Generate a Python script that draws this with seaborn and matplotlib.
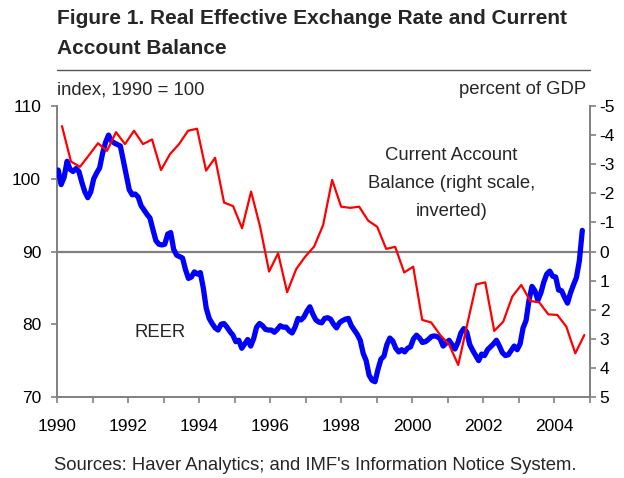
import numpy as np
import pandas as pd
import matplotlib
matplotlib.use("Agg")
import matplotlib.pyplot as plt
import seaborn as sns

# REER, monthly, Jan 1990 - Oct 2004 (index, 1990 = 100)
reer = [
    101.2, 99.2, 100.2, 102.4, 101.3, 101.0, 101.4, 101.0, 99.5, 98.2, 97.4, 98.2,
    100.0, 100.8, 101.5, 103.5, 105.0, 106.0, 105.2, 104.9, 104.7, 104.5, 102.5, 100.5,
    98.5, 97.8, 97.9, 97.5, 96.3, 95.7, 95.1, 94.6, 93.0, 91.5, 91.0, 90.9,
    91.0, 92.4, 92.6, 90.3, 89.5, 89.3, 89.1, 87.5, 86.3, 86.5, 87.2, 86.9,
    87.1, 85.0, 82.2, 80.8, 80.1, 79.5, 79.2, 80.0, 80.1, 79.6, 79.0, 78.5,
    77.6, 77.8, 76.7, 77.3, 77.9, 77.0, 78.0, 79.6, 80.1, 79.8, 79.3, 79.2,
    79.2, 78.9, 79.3, 79.8, 79.6, 79.6, 79.1, 78.8, 79.6, 80.8, 80.6, 81.0,
    81.8, 82.4, 81.4, 80.6, 80.3, 80.2, 80.8, 80.9, 80.7, 80.0, 79.5, 80.2,
    80.5, 80.7, 80.8, 79.8, 79.2, 78.6, 77.8, 76.0, 75.0, 73.0, 72.3, 72.1,
    73.8, 75.2, 75.6, 77.2, 78.1, 77.7, 76.7, 76.2, 76.5, 76.2, 76.7, 76.9,
    78.0, 78.5, 78.1, 77.5, 77.6, 77.9, 78.3, 78.4, 78.3, 78.0, 77.0, 77.4,
    77.8, 77.2, 76.6, 77.5, 78.8, 79.4, 78.9, 77.2, 76.4, 75.7, 75.0, 75.9,
    75.7, 76.5, 76.9, 77.3, 77.8, 77.0, 76.1, 75.7, 75.8, 76.4, 77.0, 76.5,
    77.3, 79.5, 80.5, 83.3, 85.2, 84.6, 83.3, 84.3, 85.8, 86.9, 87.3, 86.6,
    86.5, 84.7, 84.6, 83.7, 82.9, 84.3, 85.4, 86.4, 88.7, 92.9,
]

# current account balance, quarterly, 1990Q1 - 2004Q3 (percent of GDP)
cab = [
    -4.31, -3.09, -2.91, -3.31, -3.72, -3.46, -4.10, -3.69, -4.15, -3.69,
    -3.85, -2.80, -3.35, -3.69, -4.15, -4.22, -2.78, -3.22, -1.68, -1.56,
    -0.80, -2.06, -0.85, 0.69, 0.06, 1.40, 0.61, 0.18, -0.17, -0.91,
    -2.46, -1.54, -1.50, -1.54, -1.06, -0.85, -0.09, -0.16, 0.72, 0.52,
    2.35, 2.44, 2.87, 3.21, 3.90, 2.50, 1.13, 1.06, 2.73, 2.41,
    1.55, 1.15, 1.70, 1.75, 2.16, 2.18, 2.58, 3.50, 2.87,
]

left_ticks = [70, 80, 90, 100, 110]
right_ticks = [-5, -4, -3, -2, -1, 0, 1, 2, 3, 4, 5]
year_labels = list(range(1990, 2005, 2))

df_reer = pd.DataFrame({"t": 1990 + (np.arange(len(reer)) + 0.4) / 12, "v": reer})
df_cab = pd.DataFrame({"t": np.linspace(1990.14, 2004.84, len(cab)), "v": cab})

sns.set_style("ticks")
plt.rcParams["font.family"] = ["Liberation Sans", "DejaVu Sans"]
plt.rcParams["axes.unicode_minus"] = False

fig = plt.figure(figsize=(6.24, 4.78), dpi=100)
ax = fig.add_axes([57 / 624, 1 - 397 / 478, 533 / 624, 291 / 478])
ax2 = ax.twinx()

grey = "#808080"
ax.axhline(90, color=grey, lw=1.6, zorder=1)
sns.lineplot(data=df_reer, x="t", y="v", ax=ax, color="#0000ff", lw=3.8, zorder=3)
sns.lineplot(data=df_cab, x="t", y="v", ax=ax2, color="#ff0000", lw=1.6)

ax.set_xlim(1990, 2005)
ax.set_ylim(70, 110)
ax2.set_ylim(5, -5)
ax.set_yticks(left_ticks)
ax2.set_yticks(right_ticks)
ax.set_xticks(range(1990, 2006))
ax.set_xticklabels([str(y) if y in year_labels else "" for y in range(1990, 2006)])
ax.set_xlabel("")
ax.set_ylabel("")
ax2.set_ylabel("")

for a in (ax, ax2):
    a.spines["top"].set_visible(False)
    for s in ("left", "right", "bottom"):
        a.spines[s].set_color(grey)
        a.spines[s].set_linewidth(1.4)
    a.tick_params(colors="black", labelsize=12.5, length=4.5, width=1.2, color=grey, pad=7)
ax.spines["right"].set_visible(False)
ax2.spines["left"].set_visible(False)
ax2.spines["bottom"].set_visible(False)
ax.tick_params(axis="x", pad=11)
ax2.tick_params(axis="y", pad=2.5)

ax.text(2001.1, 99.3, "Current Account\nBalance (right scale,\ninverted)", ha="center", va="center",
        fontsize=13.3, linespacing=1.85)
ax.text(1992.9, 78.8, "REER", ha="center", va="center", fontsize=13.3)

fig.text(57 / 624, 1 - 19 / 478, "Figure 1. Real Effective Exchange Rate and Current",
         fontsize=15, fontweight="bold", va="center", ha="left")
fig.text(57 / 624, 1 - 48 / 478, "Account Balance",
         fontsize=15, fontweight="bold", va="center", ha="left")
fig.add_artist(plt.Line2D([57 / 624, 590 / 624], [1 - 70 / 478, 1 - 70 / 478], color="#555555", lw=1))
fig.text(57 / 624, 1 - 90 / 478, "index, 1990 = 100", fontsize=13.3, va="center", ha="left")
fig.text(586 / 624, 1 - 90 / 478, "percent of GDP", fontsize=13.3, va="center", ha="right")
fig.text(315 / 624, 1 - 466 / 478, "Sources: Haver Analytics; and IMF's Information Notice System.",
         fontsize=13.3, va="center", ha="center")

fig.savefig("out.png", dpi=100)
